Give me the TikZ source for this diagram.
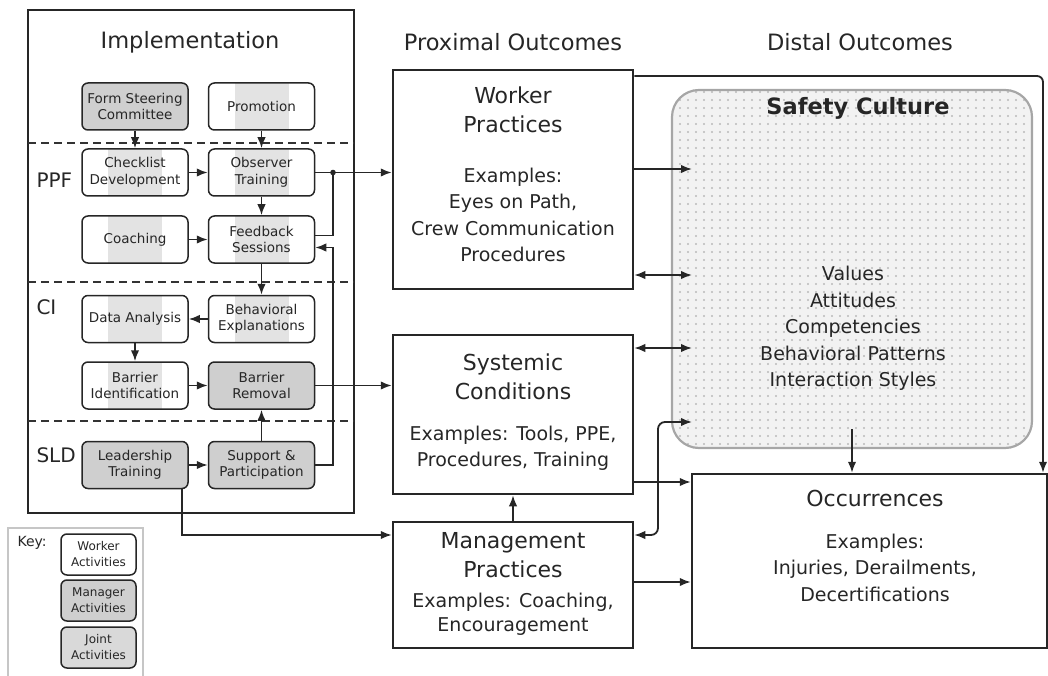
\documentclass[tikz,border=0pt]{standalone}
\usepackage{fontspec}
\setmainfont{DejaVu Sans}
\usetikzlibrary{arrows.meta,patterns.meta}

\tikzset{
  act/.style={draw=black!85, line width=1.5pt, rounded corners=6pt, minimum width=106pt, minimum height=47pt,
    inner sep=0pt, align=center, font=\fontsize{13.5}{16.5}\selectfont, text=black!85},
  wrk/.style={act, fill=white, path picture={\fill[gray!22, sharp corners] ([xshift=-27pt]path picture bounding box.north)
    rectangle ([xshift=27pt]path picture bounding box.south);}},
  mgr/.style={act, fill=gray!38},
  outbox/.style={draw=black!85, line width=2.5pt, minimum width=240pt, inner sep=0pt},
  ttl/.style={align=center, font=\fontsize{22}{29}\selectfont, text=black!85},
  ex/.style={align=center, font=\fontsize{19}{26.5}\selectfont, text=black!85},
  head/.style={font=\fontsize{22.5}{27}\selectfont, text=black!85},
  lvl/.style={anchor=west, font=\fontsize{20}{24}\selectfont, text=black!85},
  sep/.style={line width=2.6pt, dash pattern=on 8pt off 5pt, black!80},
  line/.style={line width=1.8pt, black!85},
  arr/.style={line, -{Latex[length=11pt,width=8.5pt]}},
  darr/.style={line, {Latex[length=11pt,width=8.5pt]}-{Latex[length=11pt,width=8.5pt]}},
}

\begin{document}
\begin{tikzpicture}[x=1pt,y=-1pt]
  \useasboundingbox (0,0) rectangle (1048,676);
  %% headings
  \node[head] (hImpl) at (190,42) {Implementation};
  \node[head] (hProx) at (513,42) {Proximal Outcomes};
  \node[head] (hDist) at (860,42) {Distal Outcomes};

  %% implementation panel
  \draw[line width=2.5pt, black!85] (28,10) rectangle (354,513);
  \draw[sep] (28,143) -- (354,143);
  \draw[sep] (28,282) -- (354,282);
  \draw[sep] (28,421) -- (354,421);
  \node[lvl] (lPPF) at (33,180) {PPF};
  \node[lvl] (lCI) at (33,307) {CI};
  \node[lvl] (lSLD) at (33,455) {SLD};

  \node[mgr] (fsc) at (135,106.5) {Form Steering\\Committee};
  \node[wrk] (promo) at (261.5,106.5) {Promotion};
  \node[wrk] (chk) at (135,172.5) {Checklist\\Development};
  \node[wrk] (obs) at (261.5,172.5) {Observer\\Training};
  \node[wrk] (coach) at (135,239.5) {Coaching};
  \node[wrk] (fb) at (261.5,239.5) {Feedback\\Sessions};
  \node[wrk] (da) at (135,319) {Data Analysis};
  \node[wrk] (beh) at (261.5,319) {Behavioral\\Explanations};
  \node[wrk] (bi) at (135,385.5) {Barrier\\Identification};
  \node[mgr] (br) at (261.5,385.5) {Barrier\\Removal};
  \node[mgr] (lt) at (135,465) {Leadership\\Training};
  \node[mgr] (sp) at (261.5,465) {Support \&\\Participation};

  %% key
  \draw[gray!45, line width=1.5pt] (8,676) |- (143,528) -- (143,676);
  \node[anchor=west, font=\fontsize{14}{17}\selectfont, text=black!85] (key) at (14,543) {Key:};
  \node[act, fill=white, minimum width=75pt, minimum height=41pt, font=\fontsize{12}{16}\selectfont] (kw) at (98.5,554.5) {Worker\\Activities};
  \node[act, fill=gray!38, minimum width=75pt, minimum height=41pt, font=\fontsize{12}{16}\selectfont] (km) at (98.5,600.5) {Manager\\Activities};
  \node[act, fill=gray!30, minimum width=75pt, minimum height=41pt, font=\fontsize{12}{16}\selectfont] (kj) at (98.5,647.5) {Joint\\Activities};

  %% outcome boxes
  \node[outbox, minimum height=219pt] (wp) at (513,179.5) {};
  \node[ttl] at (513,110) {Worker\\Practices};
  \node[ex] at (513,215) {Examples:\\Eyes on Path,\\Crew Communication\\Procedures};
  \node[outbox, minimum height=159pt] (sys) at (513,414.5) {};
  \node[ttl] at (513,377) {Systemic\\Conditions};
  \node[ex] at (513,448.5) {Examples: Tools, PPE,\\Procedures, Training};
  \node[outbox, minimum height=126pt] (mp) at (513,585) {};
  \node[ttl] at (513,555.5) {Management\\Practices};
  \node[ex, font=\fontsize{19}{24}\selectfont] at (513,614) {Examples: Coaching,\\Encouragement};

  \node[draw=gray!70, line width=2.2pt, rounded corners=27pt, minimum width=360pt, minimum height=358pt,
    preaction={fill=gray!10}, pattern={Dots[distance=8pt,radius=1.2pt]}, pattern color=gray!55] (sc) at (852,269) {};
  \node[font=\bfseries\fontsize{22.5}{27}\selectfont, text=black!85] at (858,108) {Safety Culture};
  \node[ex] at (853,328.5) {Values\\Attitudes\\Competencies\\Behavioral Patterns\\Interaction Styles};

  \node[outbox, minimum width=355pt, minimum height=174pt] (occ) at (869.5,561) {};
  \node[ttl] at (875,498) {Occurrences};
  \node[ex] at (875,567.5) {Examples:\\Injuries, Derailments,\\Decertifications};

  %% connectors inside the panel
  \draw[arr] (fsc) -- (chk);
  \draw[arr] (promo) -- (obs);
  \draw[arr] (chk) -- (obs);
  \draw[arr] (obs) -- (fb);
  \draw[arr] (coach) -- (fb);
  \draw[arr] (fb) -- (beh);
  \draw[arr] (beh) -- (da);
  \draw[arr] (da) -- (bi);
  \draw[arr] (bi) -- (br);
  \draw[arr] (sp) -- (br);
  \draw[arr] (lt) -- (sp);
  \coordinate (jn) at (obs.east -| 333,0);
  \draw[line] ([yshift=4pt]fb.east) -| (jn);
  \fill[black!85] (jn) circle (2.8pt);
  \draw[arr] (sp.east) -- ++(18,0) |- ([yshift=-8pt]fb.east);

  %% panel to outcomes
  \draw[arr] (obs.east) -- (obs.east -| wp.west);
  \draw[arr] (br.east) -- (br.east -| sys.west);
  \draw[arr] ([xshift=47pt]lt.south) |- (mp.west |- 0,535);
  \draw[arr] (mp) -- (sys);

  %% outcomes to distal outcomes
  \coordinate (scin) at (692,0);
  \draw[arr] (wp.east |- 0,169) -- (scin |- 0,169);
  \draw[darr] (wp.east |- 0,275) -- (scin |- 0,275);
  \draw[darr] (sys.east |- 0,348) -- (scin |- 0,348);
  \draw[darr, rounded corners=7pt] (mp.east |- 0,535) -- (658,535) -- (658,422) -- (scin |- 0,422);
  \draw[arr] (sys.east |- 0,482) -- (occ.west |- 0,482);
  \draw[arr] (mp.east |- 0,582) -- (occ.west |- 0,582);
  \draw[arr, rounded corners=6pt] (wp.east |- 0,76) -| (occ.north -| 1043,0);
  \draw[arr] ([yshift=20pt]sc.south) -- (sc.south |- occ.north);
\end{tikzpicture}
\end{document}
